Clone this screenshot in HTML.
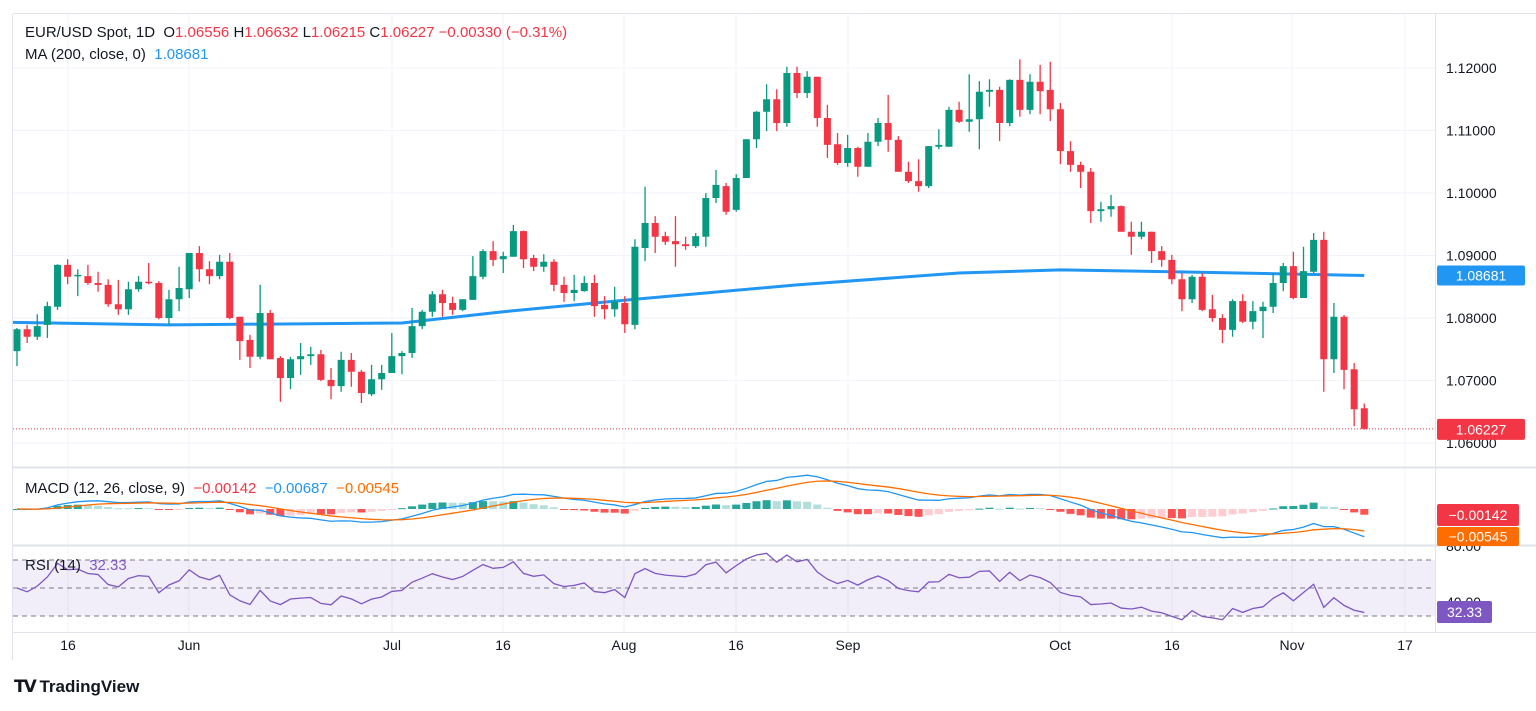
<!DOCTYPE html>
<html><head><meta charset="utf-8"><style>
body{margin:0;background:#fff;font-family:"Liberation Sans",sans-serif;}
#wrap{position:relative;width:1536px;height:711px;overflow:hidden;background:#fff}
.hdr{position:absolute;left:25px;font-size:15px;color:#131722;white-space:nowrap}
.r{color:#f23645}.b{color:#2196f3}.o{color:#ff6d00}.p{color:#7e57c2}
svg text{font-family:"Liberation Sans",sans-serif}
</style></head><body>
<div id="wrap">
<svg id="svg" width="1536" height="711"></svg>
<div class="hdr" style="top:24px">EUR/USD Spot, 1D&nbsp; O<span class="r">1.06556</span> H<span class="r">1.06632</span> L<span class="r">1.06215</span> C<span class="r">1.06227</span> <span class="r">−0.00330 (−0.31%)</span></div>
<div class="hdr" style="top:46px">MA (200, close, 0)&nbsp; <span class="b">1.08681</span></div>
<div class="hdr" style="top:480px">MACD (12, 26, close, 9)&nbsp; <span class="r">−0.00142</span>&nbsp; <span class="b">−0.00687</span>&nbsp; <span class="o">−0.00545</span></div>
<div class="hdr" style="top:557px">RSI (14)&nbsp; <span class="p">32.33</span></div>
<div style="position:absolute;left:14px;top:677px;font-size:17px;font-weight:bold;color:#131722"><span style="letter-spacing:-2px">𝗧𝗩</span> TradingView</div>
</div>
<script>
const opens=[1.0747,1.0782,1.0770,1.0789,1.0818,1.0885,1.0867,1.0867,1.0856,1.0853,1.0822,1.0814,1.0846,1.0858,1.0856,1.0800,1.0830,1.0846,1.0904,1.0878,1.0867,1.0890,1.0802,1.0765,1.0738,1.0808,1.0736,1.0704,1.0734,1.0739,1.0742,1.0701,1.0691,1.0733,1.0714,1.0678,1.0702,1.0712,1.0739,1.0744,1.0787,1.0810,1.0838,1.0824,1.0813,1.0829,1.0866,1.0907,1.0894,1.0898,1.0939,1.0896,1.0882,1.0890,1.0853,1.0840,1.0843,1.0856,1.0821,1.0814,1.0824,1.0789,1.0912,1.0952,1.0931,1.0923,1.0918,1.0915,1.0930,1.0992,1.1011,1.0973,1.1024,1.1086,1.1130,1.1150,1.1112,1.1192,1.1160,1.1186,1.1120,1.1078,1.1048,1.1072,1.1042,1.1082,1.1112,1.1085,1.1034,1.1019,1.1011,1.1074,1.1074,1.1133,1.1114,1.1118,1.1162,1.1165,1.1112,1.1181,1.1133,1.1178,1.1165,1.1134,1.1067,1.1045,1.1034,1.0971,1.0974,1.0979,1.0938,1.0930,1.0938,1.0907,1.0893,1.0862,1.0830,1.0866,1.0814,1.0800,1.0781,1.0827,1.0794,1.0811,1.0818,1.0856,1.0883,1.0832,1.0874,1.0925,1.0734,1.0802,1.0718,1.06556];
const highs=[1.0784,1.0789,1.0806,1.0826,1.0886,1.0894,1.0878,1.0885,1.0874,1.0862,1.0861,1.0858,1.0867,1.0888,1.0859,1.0845,1.0882,1.0904,1.0915,1.0891,1.0901,1.0904,1.0802,1.0773,1.0853,1.0813,1.0739,1.0738,1.0760,1.0754,1.0749,1.0720,1.0746,1.0744,1.0717,1.0725,1.0725,1.0776,1.0747,1.0816,1.0813,1.0843,1.0845,1.0834,1.0830,1.0899,1.0910,1.0923,1.0906,1.0949,1.0940,1.0901,1.0902,1.0894,1.0866,1.0869,1.0867,1.0869,1.0835,1.0850,1.0835,1.0926,1.1010,1.0963,1.0938,1.0963,1.0930,1.0936,1.1000,1.1037,1.1016,1.1030,1.1086,1.1131,1.1174,1.1166,1.1202,1.1202,1.1195,1.1186,1.1141,1.1096,1.1093,1.1074,1.1096,1.1120,1.1157,1.1091,1.1050,1.1054,1.1075,1.1102,1.1138,1.1146,1.1190,1.1179,1.1182,1.1170,1.1182,1.1214,1.1190,1.1205,1.1210,1.1144,1.1083,1.1050,1.1040,1.0986,1.0997,1.0980,1.0954,1.0954,1.0938,1.0915,1.0901,1.0872,1.0869,1.0872,1.0837,1.0806,1.0830,1.0838,1.0827,1.0826,1.0872,1.0888,1.0906,1.0914,1.0936,1.0938,1.0824,1.0805,1.0728,1.06632];
const lows=[1.0723,1.0760,1.0765,1.0768,1.0813,1.0854,1.0835,1.0853,1.0842,1.0818,1.0805,1.0805,1.0842,1.0854,1.0798,1.0789,1.0811,1.0832,1.0858,1.0854,1.0862,1.0798,1.0733,1.0720,1.0734,1.0734,1.0666,1.0686,1.0709,1.0725,1.0699,1.0670,1.0682,1.0690,1.0664,1.0675,1.0685,1.0712,1.0710,1.0736,1.0782,1.0802,1.0802,1.0805,1.0811,1.0829,1.0862,1.0883,1.0872,1.0898,1.0880,1.0875,1.0874,1.0843,1.0826,1.0827,1.0842,1.0802,1.0798,1.0802,1.0776,1.0782,1.0891,1.0904,1.0917,1.0882,1.0909,1.0912,1.0914,1.0984,1.0965,1.0970,1.1024,1.1072,1.1099,1.1099,1.1106,1.1152,1.1152,1.1106,1.1056,1.1045,1.1042,1.1026,1.1042,1.1075,1.1066,1.1034,1.1016,1.1002,1.1008,1.1070,1.1074,1.1112,1.1098,1.1070,1.1138,1.1083,1.1107,1.1122,1.1126,1.1126,1.1115,1.1046,1.1034,1.1008,1.0952,1.0954,1.0962,1.0938,1.0901,1.0926,1.0888,1.0882,1.0854,1.0811,1.0824,1.0811,1.0794,1.0760,1.0770,1.0792,1.0782,1.0768,1.0808,1.0843,1.0830,1.0832,1.0872,1.0682,1.0712,1.0686,1.0627,1.06215];
const closes=[1.0782,1.0770,1.0787,1.0819,1.0885,1.0866,1.0869,1.0856,1.0853,1.0822,1.0814,1.0846,1.0858,1.0856,1.0800,1.0830,1.0848,1.0904,1.0878,1.0867,1.0890,1.0800,1.0763,1.0738,1.0808,1.0734,1.0704,1.0734,1.0739,1.0742,1.0701,1.0691,1.0733,1.0714,1.0680,1.0702,1.0712,1.0739,1.0744,1.0787,1.0810,1.0838,1.0824,1.0813,1.0830,1.0867,1.0907,1.0893,1.0899,1.0939,1.0894,1.0882,1.0890,1.0853,1.0840,1.0845,1.0856,1.0819,1.0814,1.0826,1.0790,1.0914,1.0952,1.0930,1.0922,1.0918,1.0915,1.0931,1.0992,1.1013,1.0970,1.1024,1.1086,1.1130,1.1150,1.1112,1.1192,1.1160,1.1186,1.1120,1.1077,1.1048,1.1072,1.1042,1.1082,1.1112,1.1085,1.1034,1.1019,1.1011,1.1075,1.1077,1.1133,1.1114,1.1118,1.1162,1.1165,1.1112,1.1181,1.1133,1.1178,1.1163,1.1134,1.1067,1.1045,1.1034,1.0971,1.0974,1.0979,1.0938,1.0930,1.0938,1.0907,1.0893,1.0862,1.0830,1.0866,1.0813,1.0800,1.0781,1.0827,1.0794,1.0811,1.0818,1.0856,1.0883,1.0832,1.0875,1.0925,1.0734,1.0802,1.0717,1.0654,1.06227];
const maIdx=[0,15,38,48,61,77,93,103,114,133];
const maVal=[1.0793,1.0789,1.0792,1.0810,1.0830,1.0853,1.0872,1.0877,1.0874,1.0868];
const priceTicks=[1.06,1.07,1.08,1.09,1.10,1.11,1.12];
const xLabels=["16","Jun","Jul","16","Aug","16","Sep","Oct","16","Nov","17"];
const xLabelPos=[68,189,392,503,624,736,848,1060,1172,1292,1405];

const NS="http://www.w3.org/2000/svg";
const svg=document.getElementById('svg');
function mk(t,a,parent){const e=document.createElementNS(NS,t);for(const k in a)e.setAttribute(k,a[k]);(parent||svg).appendChild(e);return e;}
const X=i=>17+i*10.13;
const Y=p=>443-(p-1.06)/0.00016;
const MZ=509, MY=v=>MZ-v*4040;
const RY=v=>588-(v-50)*1.4;

const grid=mk('g',{});


priceTicks.forEach(p=>{mk('line',{x1:13,x2:1435,y1:Y(p),y2:Y(p),stroke:'#f0f3fa','stroke-width':1},grid);});
xLabelPos.forEach(x=>{mk('line',{x1:x,x2:x,y1:14,y2:632,stroke:'#f0f3fa','stroke-width':1},grid);});
mk('line',{x1:13,x2:1536,y1:467.5,y2:467.5,stroke:'#e0e3eb','stroke-width':2});
mk('line',{x1:13,x2:1536,y1:545.5,y2:545.5,stroke:'#e0e3eb','stroke-width':2});
mk('line',{x1:1435.5,x2:1435.5,y1:14,y2:632,stroke:'#e0e3eb'});
mk('line',{x1:13,x2:1536,y1:632.5,y2:632.5,stroke:'#e0e3eb'});
mk('line',{x1:13,x2:1536,y1:13.5,y2:13.5,stroke:'#e0e3eb'});
mk('line',{x1:12.5,x2:12.5,y1:14,y2:660,stroke:'#e0e3eb'});

priceTicks.forEach(p=>{const t=mk('text',{x:1446,y:Y(p)+5,'font-size':14,fill:'#131722'});t.textContent=p.toFixed(5);});
xLabels.forEach((l,i)=>{const t=mk('text',{x:xLabelPos[i],y:650,'font-size':14,fill:'#131722','text-anchor':'middle'});t.textContent=l;});

let d='';maIdx.forEach((b,k)=>{d+=(k?'L':'M')+(k?X(b):13)+' '+Y(maVal[k]);});
const ma=mk('path',{d:d,fill:'none',stroke:'#2196f3','stroke-width':3,'stroke-linejoin':'round'});



const cg=mk('g',{});


closes.forEach((c,i)=>{
 const o=opens[i],up=c>=o,col=up?'#089981':'#f23645',x=X(i);
 const g=mk('g',{},cg);
 
 
 mk('line',{x1:x,x2:x,y1:Y(highs[i]),y2:Y(lows[i]),stroke:col,'stroke-width':1.3},g);
 const top=Y(Math.max(o,c)),h=Math.max(1.5,Math.abs(Y(o)-Y(c)));
 mk('rect',{x:x-3.5,y:top,width:7,height:h,fill:col},g);
});
const lp=closes[closes.length-1];
mk('line',{x1:13,x2:1435,y1:Y(lp),y2:Y(lp),stroke:'#f23645','stroke-dasharray':'1 2'});

function ema(arr,n){const k=2/(n+1);let e=arr[0];return arr.map(v=>e=v*k+e*(1-k));}
const e12=ema(closes,12),e26=ema(closes,26);
const macd=closes.map((c,i)=>e12[i]-e26[i]);
const sig=ema(macd,9);
const hist=macd.map((m,i)=>m-sig[i]);
const hg=mk('g',{});


hist.forEach((h,i)=>{
 const prev=i?hist[i-1]:0;
 const col=h>=0?(h>=prev?'#26a69a':'#b2dfdb'):(h<prev?'#ff5252':'#ffcdd2');
 const y1=MY(Math.max(h,0)),y2=MY(Math.min(h,0));
 const r=mk('rect',{x:X(i)-4,y:y1,width:8,height:Math.max(1,y2-y1),fill:col},hg);
 
 
});
function line(vals,fy,col,w,name){let s='';vals.forEach((v,i)=>{s+=(i?'L':'M')+X(i)+' '+fy(v);});const p=mk('path',{d:s,fill:'none',stroke:col,'stroke-width':w});return p;}
line(macd,MY,'#2196f3',1.3,'macd-line');
line(sig,MY,'#ff6d00',1.3,'signal-line');

mk('rect',{x:13,y:RY(70),width:1422,height:RY(30)-RY(70),fill:'rgba(126,87,194,0.1)'});
[70,50,30].forEach(v=>mk('line',{x1:13,x2:1435,y1:RY(v),y2:RY(v),stroke:'#787b86','stroke-dasharray':'5 4'}));
[[80,'80.00'],[40,'40.00']].forEach(a=>{const t=mk('text',{x:1446,y:RY(a[0])+5,'font-size':14,fill:'#131722'});t.textContent=a[1];});
const rsi=[];let ag=0,al=0;
closes.forEach((c,i)=>{if(!i){rsi.push(50);ag=0.0008;al=0.0008;return;}const ch=c-closes[i-1];ag=(ag*13+Math.max(ch,0))/14;al=(al*13+Math.max(-ch,0))/14;rsi.push(100-100/(1+ag/al));});
line(rsi,RY,'#7e57c2',1.3,'rsi-line');

function badge(y,h,w,bg,txt,name){const g=mk('g',{});mk('rect',{x:1437,y:y,width:w,height:h,rx:2,fill:bg},g);const t=mk('text',{x:1437+w/2,y:y+h/2+5,'font-size':14,fill:'#fff','text-anchor':'middle'},g);t.textContent=txt;}
badge(Y(1.08681)-10,20,88,'#2196f3','1.08681','ma-price-badge');
badge(Y(lp)-10,21,88,'#f23645','1.06227','last-price-badge');
badge(504,22,82,'#f23645','−0.00142','macd-hist-badge');
badge(527,19,82,'#ff6d00','−0.00545','signal-badge');
badge(601,22,55,'#7e57c2','32.33','rsi-badge');
</script>
</body></html>
